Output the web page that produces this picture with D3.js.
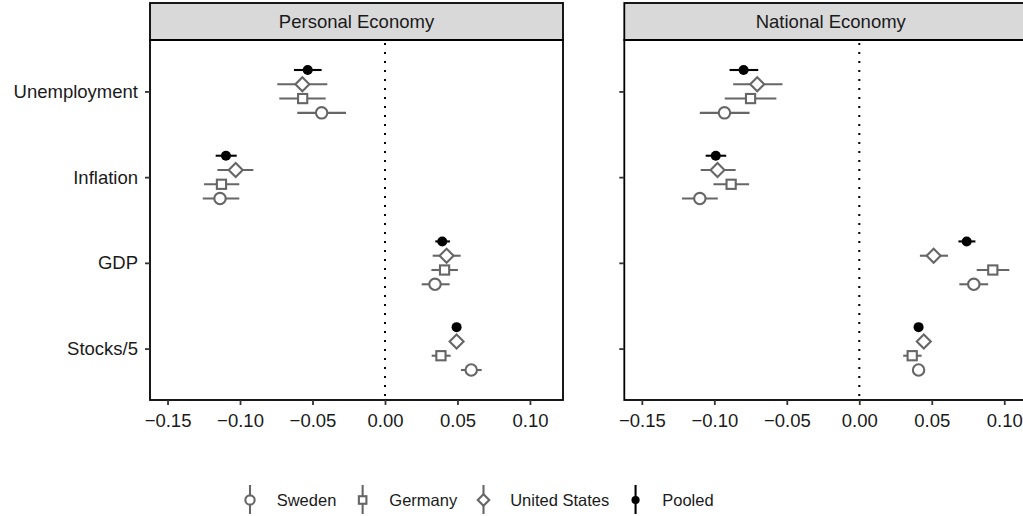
<!DOCTYPE html>
<html><head><meta charset="utf-8">
<script src="https://cdn.jsdelivr.net/npm/d3@7"></script>
<style>body{margin:0;background:#fff} svg{display:block;font-family:"Liberation Sans",Arial,Helvetica,sans-serif}</style>
</head><body><svg id="c" width="1023" height="516"></svg>
<script>
// ---------- data ----------
const categories = ["Unemployment", "Inflation", "GDP", "Stocks/5"];
const groups = ["Pooled", "United States", "Germany", "Sweden"];   // top-to-bottom within a category
const legendOrder = ["Sweden", "Germany", "United States", "Pooled"];
const panels = ["Personal Economy", "National Economy"];
const xTicks = [-0.15, -0.10, -0.05, 0.00, 0.05, 0.10];
const xDomain = [-0.1621, 0.1228];

// [estimate, lower, upper] for each category in order
const personalPooled  = [[-0.0533, -0.0628, -0.0437], [-0.1097, -0.1168, -0.1023], [0.0395, 0.0347, 0.0448], [0.0494, 0.0472, 0.0516]];
const personalUS      = [[-0.0570, -0.0743, -0.0398], [-0.1030, -0.1156, -0.0908], [0.0425, 0.0329, 0.0522], [0.0494, 0.0458, 0.0530]];
const personalGermany = [[-0.0568, -0.0729, -0.0409], [-0.1128, -0.1248, -0.1005], [0.0411, 0.0320, 0.0503], [0.0386, 0.0322, 0.0453]];
const personalSweden  = [[-0.0437, -0.0605, -0.0269], [-0.1138, -0.1257, -0.1005], [0.0345, 0.0253, 0.0446], [0.0595, 0.0524, 0.0667]];

const nationalPooled  = [[-0.0798, -0.0895, -0.0697], [-0.0990, -0.1060, -0.0918], [0.0741, 0.0684, 0.0801], [0.0409, 0.0387, 0.0431]];
const nationalUS      = [[-0.0704, -0.0870, -0.0530], [-0.0978, -0.1094, -0.0853], [0.0513, 0.0418, 0.0612], [0.0445, 0.0410, 0.0480]];
const nationalGermany = [[-0.0750, -0.0928, -0.0572], [-0.0884, -0.1006, -0.0760], [0.0921, 0.0810, 0.1035], [0.0365, 0.0303, 0.0430]];
const nationalSweden  = [[-0.0930, -0.1100, -0.0757], [-0.1100, -0.1223, -0.0976], [0.0790, 0.0690, 0.0889], [0.0409, 0.0377, 0.0441]];

const panelData = [
  {"Pooled": personalPooled, "United States": personalUS, "Germany": personalGermany, "Sweden": personalSweden},
  {"Pooled": nationalPooled, "United States": nationalUS, "Germany": nationalGermany, "Sweden": nationalSweden}
];

// ---------- styles ----------
const styleOf = {
  "Sweden":        {shape: "circle",  color: "#666666"},
  "Germany":       {shape: "square",  color: "#666666"},
  "United States": {shape: "diamond", color: "#666666"},
  "Pooled":        {shape: "dot",     color: "#000000"}
};

// ---------- layout ----------
const svg = d3.select("#c");
const panelW = 413, panelTop = 40, panelBottom = 400;
const panelLefts = [150, 624.3];
const stripTop = 3;
const axisFont = "18.5px";

const x = d3.scaleLinear().domain(xDomain).range([0, panelW]);
const y = d3.scalePoint().domain(categories).range([panelTop, panelBottom]).padding(0.6);
const dodge = d3.scalePoint().domain(groups).range([-0.25, 0.25]);

function drawShape(g, shape, color, cx, cy, k) {
  if (shape === "circle") {
    g.append("circle").attr("cx", cx).attr("cy", cy).attr("r", 5.7 * k)
      .attr("fill", "#fff").attr("stroke", color).attr("stroke-width", 2.1);
  } else if (shape === "square") {
    const s = 9.2 * k;
    g.append("rect").attr("x", cx - s / 2).attr("y", cy - s / 2).attr("width", s).attr("height", s)
      .attr("fill", "#fff").attr("stroke", color).attr("stroke-width", 2.1);
  } else if (shape === "diamond") {
    const d = 7.0 * k;
    g.append("path").attr("d", `M${cx},${cy - d}L${cx + d},${cy}L${cx},${cy + d}L${cx - d},${cy}Z`)
      .attr("fill", "#fff").attr("stroke", color).attr("stroke-width", 2.1);
  } else {
    g.append("circle").attr("cx", cx).attr("cy", cy).attr("r", 5.0 * k).attr("fill", color);
  }
}

panels.forEach((title, pi) => {
  const g = svg.append("g").attr("transform", `translate(${panelLefts[pi]},0)`);

  // strip
  g.append("rect").attr("x", 0).attr("y", stripTop).attr("width", panelW).attr("height", panelTop - stripTop)
    .attr("fill", "#D9D9D9").attr("stroke", "#000").attr("stroke-width", 1.8);
  g.append("text").attr("x", panelW / 2).attr("y", (stripTop + panelTop) / 2).attr("dy", "0.35em")
    .attr("text-anchor", "middle").attr("font-size", axisFont).attr("fill", "#1a1a1a").text(title);

  // zero line
  g.append("line").attr("x1", x(0)).attr("x2", x(0)).attr("y1", panelTop + 3).attr("y2", panelBottom)
    .attr("stroke", "#000").attr("stroke-width", 2).attr("stroke-dasharray", "2,7");

  // marks
  const data = panelData[pi];
  const step = y.step();
  groups.forEach(grp => {
    const st = styleOf[grp];
    const mg = g.append("g");
    data[grp].forEach((v, ci) => {
      const cy = y(categories[ci]) + dodge(grp) * step;
      mg.append("line").attr("x1", x(v[1])).attr("x2", x(v[2])).attr("y1", cy).attr("y2", cy)
        .attr("stroke", st.color).attr("stroke-width", 2.1);
      drawShape(mg, st.shape, st.color, x(v[0]), cy, 1);
    });
  });

  // border
  g.append("rect").attr("x", 0).attr("y", panelTop).attr("width", panelW).attr("height", panelBottom - panelTop)
    .attr("fill", "none").attr("stroke", "#000").attr("stroke-width", 1.8);

  // x axis
  const xa = g.append("g").attr("transform", `translate(0,${panelBottom})`)
    .call(d3.axisBottom(x).tickValues(xTicks).tickSize(5).tickPadding(8.5)
      .tickFormat(d => d3.format(".2f")(d).replace("-", "\u2212")));
  xa.select(".domain").remove();
  xa.selectAll("line").attr("stroke", "#333").attr("stroke-width", 1.8);
  xa.selectAll("text").attr("font-size", axisFont).attr("fill", "#1a1a1a").attr("font-family", null);

  // y axis
  const ya = g.append("g")
    .call(d3.axisLeft(y).tickSize(5).tickPadding(7).tickFormat(pi === 0 ? (d => d) : () => ""));
  ya.select(".domain").remove();
  ya.selectAll("line").attr("stroke", "#333").attr("stroke-width", 1.8);
  ya.selectAll("text").attr("font-size", axisFont).attr("fill", "#1a1a1a").attr("font-family", null);
});

// ---------- legend ----------
const legY = 500, legFont = "16.5px";
let lx = 250;
const lg = svg.append("g");
legendOrder.forEach(grp => {
  const st = styleOf[grp];
  lg.append("line").attr("x1", lx).attr("x2", lx).attr("y1", legY - 15).attr("y2", legY + 14)
    .attr("stroke", st.color).attr("stroke-width", 2.1);
  drawShape(lg, st.shape, st.color, lx, legY, 0.82);
  const t = lg.append("text").attr("x", lx + 26.7).attr("y", legY).attr("dy", "0.35em")
    .attr("font-size", legFont).attr("fill", "#1a1a1a").text(grp);
  lx = lx + 26.7 + t.node().getComputedTextLength() + 26.3;
});
</script></body></html>
